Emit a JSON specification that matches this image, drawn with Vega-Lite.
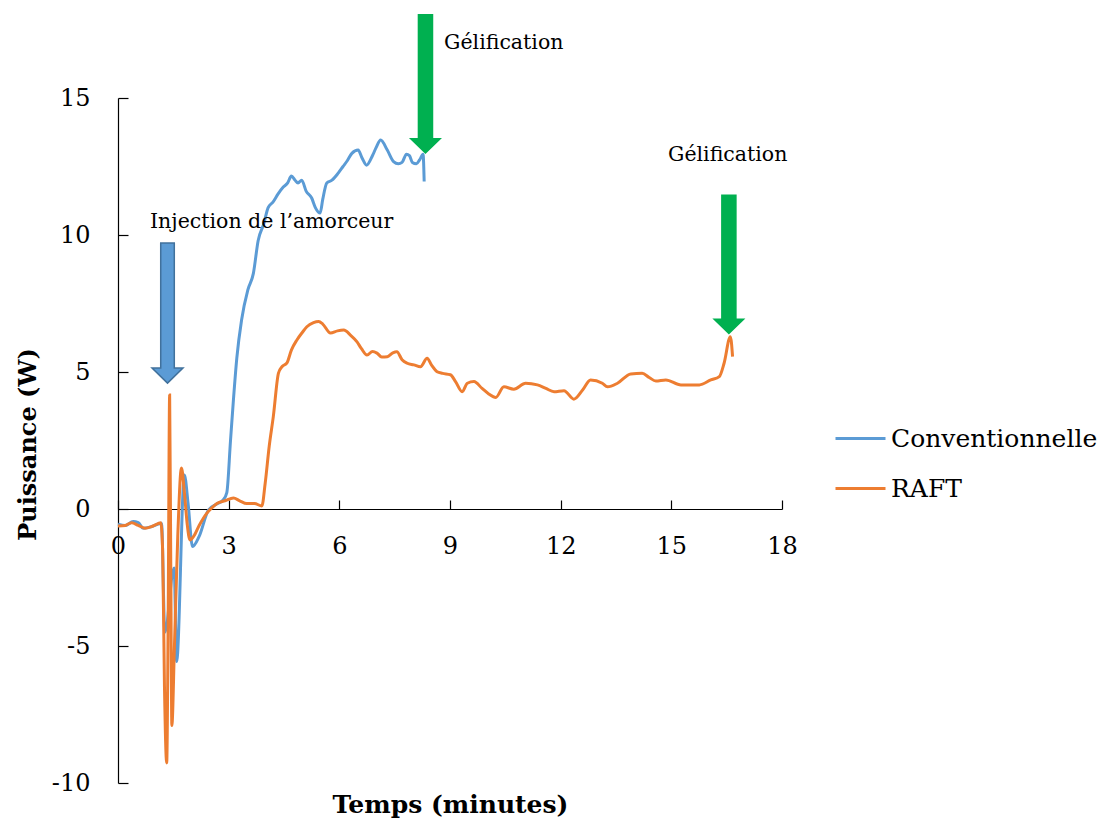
{
  "$schema": "https://vega.github.io/schema/vega-lite/v6.json",
  "width": 664,
  "height": 685,
  "autosize": {"type": "none"},
  "padding": {"left": 118, "top": 98, "right": 317, "bottom": 36},
  "background": "white",
  "config": {
    "view": {"stroke": null},
    "font": "DejaVu Serif",
    "axis": {"grid": false, "domainColor": "#000000", "tickColor": "#000000", "labelColor": "#000000", "titleColor": "#000000", "labelFont": "DejaVu Serif", "titleFont": "DejaVu Serif", "domainWidth": 1.2, "tickWidth": 1.2, "labelFlush": false, "labelOverlap": false}
  },
  "datasets": {
    "lines": [
      {"serie": "Conventionnelle", "t": 0.0, "v": -0.55},
      {"serie": "Conventionnelle", "t": 0.2, "v": -0.6},
      {"serie": "Conventionnelle", "t": 0.41, "v": -0.46},
      {"serie": "Conventionnelle", "t": 0.55, "v": -0.5},
      {"serie": "Conventionnelle", "t": 0.68, "v": -0.7},
      {"serie": "Conventionnelle", "t": 0.9, "v": -0.65},
      {"serie": "Conventionnelle", "t": 1.18, "v": -0.52},
      {"serie": "Conventionnelle", "t": 1.27, "v": -4.5},
      {"serie": "Conventionnelle", "t": 1.52, "v": -2.15},
      {"serie": "Conventionnelle", "t": 1.59, "v": -5.57},
      {"serie": "Conventionnelle", "t": 1.8, "v": 1.24},
      {"serie": "Conventionnelle", "t": 1.9, "v": 0.2},
      {"serie": "Conventionnelle", "t": 2.02, "v": -1.37},
      {"serie": "Conventionnelle", "t": 2.2, "v": -1.0},
      {"serie": "Conventionnelle", "t": 2.45, "v": -0.04},
      {"serie": "Conventionnelle", "t": 2.7, "v": 0.2},
      {"serie": "Conventionnelle", "t": 2.85, "v": 0.33},
      {"serie": "Conventionnelle", "t": 2.95, "v": 0.6},
      {"serie": "Conventionnelle", "t": 3.05, "v": 2.5},
      {"serie": "Conventionnelle", "t": 3.13, "v": 4.0},
      {"serie": "Conventionnelle", "t": 3.22, "v": 5.5},
      {"serie": "Conventionnelle", "t": 3.35, "v": 6.9},
      {"serie": "Conventionnelle", "t": 3.52, "v": 8.0},
      {"serie": "Conventionnelle", "t": 3.67, "v": 8.6},
      {"serie": "Conventionnelle", "t": 3.8, "v": 9.8},
      {"serie": "Conventionnelle", "t": 3.95, "v": 10.4},
      {"serie": "Conventionnelle", "t": 4.07, "v": 11.0},
      {"serie": "Conventionnelle", "t": 4.2, "v": 11.2},
      {"serie": "Conventionnelle", "t": 4.34, "v": 11.5},
      {"serie": "Conventionnelle", "t": 4.48, "v": 11.75},
      {"serie": "Conventionnelle", "t": 4.6, "v": 11.9},
      {"serie": "Conventionnelle", "t": 4.7, "v": 12.15},
      {"serie": "Conventionnelle", "t": 4.8, "v": 12.0},
      {"serie": "Conventionnelle", "t": 4.88, "v": 11.9},
      {"serie": "Conventionnelle", "t": 4.98, "v": 12.0},
      {"serie": "Conventionnelle", "t": 5.1, "v": 11.6},
      {"serie": "Conventionnelle", "t": 5.25, "v": 11.35},
      {"serie": "Conventionnelle", "t": 5.35, "v": 11.0},
      {"serie": "Conventionnelle", "t": 5.48, "v": 10.8},
      {"serie": "Conventionnelle", "t": 5.55, "v": 11.3},
      {"serie": "Conventionnelle", "t": 5.66, "v": 11.9},
      {"serie": "Conventionnelle", "t": 5.8, "v": 12.0},
      {"serie": "Conventionnelle", "t": 5.97, "v": 12.26},
      {"serie": "Conventionnelle", "t": 6.1, "v": 12.5},
      {"serie": "Conventionnelle", "t": 6.21, "v": 12.7},
      {"serie": "Conventionnelle", "t": 6.34, "v": 12.98},
      {"serie": "Conventionnelle", "t": 6.51, "v": 13.1},
      {"serie": "Conventionnelle", "t": 6.62, "v": 12.8},
      {"serie": "Conventionnelle", "t": 6.74, "v": 12.55},
      {"serie": "Conventionnelle", "t": 6.9, "v": 12.9},
      {"serie": "Conventionnelle", "t": 7.0, "v": 13.2},
      {"serie": "Conventionnelle", "t": 7.12, "v": 13.47},
      {"serie": "Conventionnelle", "t": 7.3, "v": 13.1},
      {"serie": "Conventionnelle", "t": 7.47, "v": 12.68},
      {"serie": "Conventionnelle", "t": 7.6, "v": 12.6},
      {"serie": "Conventionnelle", "t": 7.7, "v": 12.65},
      {"serie": "Conventionnelle", "t": 7.82, "v": 12.95},
      {"serie": "Conventionnelle", "t": 7.9, "v": 12.9},
      {"serie": "Conventionnelle", "t": 7.98, "v": 12.65},
      {"serie": "Conventionnelle", "t": 8.09, "v": 12.6},
      {"serie": "Conventionnelle", "t": 8.18, "v": 12.75},
      {"serie": "Conventionnelle", "t": 8.27, "v": 12.95},
      {"serie": "Conventionnelle", "t": 8.3, "v": 11.95},
      {"serie": "RAFT", "t": 0.0, "v": -0.62},
      {"serie": "RAFT", "t": 0.2, "v": -0.6},
      {"serie": "RAFT", "t": 0.37, "v": -0.5},
      {"serie": "RAFT", "t": 0.55, "v": -0.6},
      {"serie": "RAFT", "t": 0.73, "v": -0.7},
      {"serie": "RAFT", "t": 0.95, "v": -0.62},
      {"serie": "RAFT", "t": 1.16, "v": -0.5},
      {"serie": "RAFT", "t": 1.21, "v": -1.5},
      {"serie": "RAFT", "t": 1.26, "v": -6.5},
      {"serie": "RAFT", "t": 1.32, "v": -9.27},
      {"serie": "RAFT", "t": 1.36, "v": -4.0},
      {"serie": "RAFT", "t": 1.4, "v": 4.16},
      {"serie": "RAFT", "t": 1.43, "v": -2.0},
      {"serie": "RAFT", "t": 1.46, "v": -7.9},
      {"serie": "RAFT", "t": 1.53, "v": -5.0},
      {"serie": "RAFT", "t": 1.62, "v": -1.0},
      {"serie": "RAFT", "t": 1.72, "v": 1.5},
      {"serie": "RAFT", "t": 1.8, "v": 0.6},
      {"serie": "RAFT", "t": 1.88, "v": -0.6},
      {"serie": "RAFT", "t": 1.95, "v": -1.13},
      {"serie": "RAFT", "t": 2.05, "v": -1.0},
      {"serie": "RAFT", "t": 2.2, "v": -0.6},
      {"serie": "RAFT", "t": 2.41, "v": -0.15},
      {"serie": "RAFT", "t": 2.55, "v": 0.05},
      {"serie": "RAFT", "t": 2.68, "v": 0.2},
      {"serie": "RAFT", "t": 2.9, "v": 0.3},
      {"serie": "RAFT", "t": 3.13, "v": 0.4},
      {"serie": "RAFT", "t": 3.3, "v": 0.3},
      {"serie": "RAFT", "t": 3.49, "v": 0.2},
      {"serie": "RAFT", "t": 3.7, "v": 0.2},
      {"serie": "RAFT", "t": 3.9, "v": 0.11},
      {"serie": "RAFT", "t": 3.99, "v": 0.94},
      {"serie": "RAFT", "t": 4.1, "v": 2.3},
      {"serie": "RAFT", "t": 4.21, "v": 3.37},
      {"serie": "RAFT", "t": 4.35, "v": 4.96},
      {"serie": "RAFT", "t": 4.45, "v": 5.2},
      {"serie": "RAFT", "t": 4.58, "v": 5.33},
      {"serie": "RAFT", "t": 4.7, "v": 5.8},
      {"serie": "RAFT", "t": 4.85, "v": 6.17},
      {"serie": "RAFT", "t": 5.0, "v": 6.45},
      {"serie": "RAFT", "t": 5.12, "v": 6.65},
      {"serie": "RAFT", "t": 5.3, "v": 6.8},
      {"serie": "RAFT", "t": 5.44, "v": 6.84},
      {"serie": "RAFT", "t": 5.55, "v": 6.75},
      {"serie": "RAFT", "t": 5.76, "v": 6.42},
      {"serie": "RAFT", "t": 5.95, "v": 6.5},
      {"serie": "RAFT", "t": 6.12, "v": 6.53},
      {"serie": "RAFT", "t": 6.3, "v": 6.35},
      {"serie": "RAFT", "t": 6.48, "v": 6.1},
      {"serie": "RAFT", "t": 6.6, "v": 5.85},
      {"serie": "RAFT", "t": 6.75, "v": 5.62},
      {"serie": "RAFT", "t": 6.9, "v": 5.75},
      {"serie": "RAFT", "t": 7.02, "v": 5.69},
      {"serie": "RAFT", "t": 7.15, "v": 5.55},
      {"serie": "RAFT", "t": 7.3, "v": 5.56},
      {"serie": "RAFT", "t": 7.45, "v": 5.7},
      {"serie": "RAFT", "t": 7.56, "v": 5.74},
      {"serie": "RAFT", "t": 7.7, "v": 5.45},
      {"serie": "RAFT", "t": 7.84, "v": 5.32},
      {"serie": "RAFT", "t": 8.02, "v": 5.26},
      {"serie": "RAFT", "t": 8.2, "v": 5.19},
      {"serie": "RAFT", "t": 8.38, "v": 5.5},
      {"serie": "RAFT", "t": 8.5, "v": 5.25},
      {"serie": "RAFT", "t": 8.65, "v": 5.01},
      {"serie": "RAFT", "t": 8.8, "v": 4.95},
      {"serie": "RAFT", "t": 9.01, "v": 4.9},
      {"serie": "RAFT", "t": 9.15, "v": 4.65},
      {"serie": "RAFT", "t": 9.33, "v": 4.28},
      {"serie": "RAFT", "t": 9.47, "v": 4.59},
      {"serie": "RAFT", "t": 9.65, "v": 4.65},
      {"serie": "RAFT", "t": 9.87, "v": 4.4},
      {"serie": "RAFT", "t": 10.05, "v": 4.2},
      {"serie": "RAFT", "t": 10.24, "v": 4.07},
      {"serie": "RAFT", "t": 10.46, "v": 4.46},
      {"serie": "RAFT", "t": 10.73, "v": 4.37},
      {"serie": "RAFT", "t": 11.05, "v": 4.59},
      {"serie": "RAFT", "t": 11.37, "v": 4.53},
      {"serie": "RAFT", "t": 11.6, "v": 4.4},
      {"serie": "RAFT", "t": 11.82, "v": 4.28},
      {"serie": "RAFT", "t": 12.09, "v": 4.32},
      {"serie": "RAFT", "t": 12.36, "v": 4.01},
      {"serie": "RAFT", "t": 12.6, "v": 4.35},
      {"serie": "RAFT", "t": 12.81, "v": 4.71},
      {"serie": "RAFT", "t": 13.13, "v": 4.59},
      {"serie": "RAFT", "t": 13.27, "v": 4.46},
      {"serie": "RAFT", "t": 13.54, "v": 4.59},
      {"serie": "RAFT", "t": 13.9, "v": 4.93},
      {"serie": "RAFT", "t": 14.21, "v": 4.95},
      {"serie": "RAFT", "t": 14.4, "v": 4.8},
      {"serie": "RAFT", "t": 14.58, "v": 4.67},
      {"serie": "RAFT", "t": 14.85, "v": 4.71},
      {"serie": "RAFT", "t": 15.26, "v": 4.53},
      {"serie": "RAFT", "t": 15.76, "v": 4.53},
      {"serie": "RAFT", "t": 16.07, "v": 4.71},
      {"serie": "RAFT", "t": 16.3, "v": 4.83},
      {"serie": "RAFT", "t": 16.43, "v": 5.32},
      {"serie": "RAFT", "t": 16.6, "v": 6.29},
      {"serie": "RAFT", "t": 16.66, "v": 5.56}
    ],
    "arrows": [
      {"kind": "injection", "t": 1.342, "v": 7.15},
      {"kind": "gel", "t": 8.335, "v": 15.51},
      {"kind": "gel", "t": 16.56, "v": 8.92}
    ],
    "labels": [
      {"label": "Gélification", "t": 8.84, "v": 17.0},
      {"label": "Gélification", "t": 14.91, "v": 12.92},
      {"label": "Injection de l’amorceur", "t": 0.867, "v": 10.47}
    ]
  },
  "encoding": {
    "x": {
      "field": "t", "type": "quantitative",
      "scale": {"domain": [0, 18], "nice": false, "zero": false},
      "axis": {
        "values": [0, 3, 6, 9, 12, 15, 18],
        "offset": -274,
        "tickSize": -9,
        "labelPadding": 34,
        "labelFontSize": 24,
        "labelBaseline": "top",
        "labelFlush": false,
        "title": "Temps (minutes)",
        "titleFontSize": 25,
        "titleFontWeight": "bold",
        "titleX": 332,
        "titleY": 303,
        "titleBaseline": "alphabetic"
      }
    },
    "y": {
      "field": "v", "type": "quantitative",
      "scale": {"domain": [-10, 15], "nice": false, "zero": false},
      "axis": {
        "values": [-10, -5, 0, 5, 10, 15],
        "tickSize": -10,
        "labelPadding": 38,
        "labelFontSize": 24,
        "labelFlush": false,
        "labelExpr": "datum.value + ''",
        "title": "Puissance (W)",
        "titleFontSize": 24,
        "titleFontWeight": "bold",
        "titleAngle": -90,
        "titleX": -83,
        "titleY": 346,
        "titleBaseline": "alphabetic",
        "titleAlign": "center"
      }
    }
  },
  "layer": [
    {
      "data": {"name": "lines"},
      "mark": {"type": "line", "strokeWidth": 3, "interpolate": "monotone"},
      "encoding": {
        "color": {
          "field": "serie", "type": "nominal",
          "scale": {"domain": ["Conventionnelle", "RAFT"], "range": ["#5B9BD5", "#ED7D31"]},
          "legend": {
            "orient": "none",
            "legendX": 716,
            "legendY": 314,
            "title": null,
            "symbolType": "stroke",
            "symbolSize": 2500,
            "symbolStrokeWidth": 3,
            "labelFont": "DejaVu Serif",
            "labelFontSize": 25,
            "labelColor": "#000000",
            "labelOffset": 4,
            "labelLimit": 0,
            "rowPadding": 10,
            "padding": 0
          }
        }
      }
    },
    {
      "data": {"name": "arrows"},
      "transform": [{"filter": "datum.kind === 'injection'"}],
      "mark": {
        "type": "point",
        "filled": true,
        "opacity": 1,
        "size": 19600,
        "shape": "M -0.097 -1 L 0.097 -1 L 0.097 0.786 L 0.221 0.786 L 0 1 L -0.221 0.786 L -0.097 0.786 Z",
        "fill": "#5B9BD5",
        "stroke": "#41719C",
        "strokeWidth": 1.5
      }
    },
    {
      "data": {"name": "arrows"},
      "transform": [{"filter": "datum.kind === 'gel'"}],
      "mark": {
        "type": "point",
        "filled": true,
        "opacity": 1,
        "size": 19600,
        "shape": "M -0.111 -1 L 0.111 -1 L 0.111 0.771 L 0.236 0.771 L 0 1 L -0.236 0.771 L -0.111 0.771 Z",
        "fill": "#00B050",
        "strokeWidth": 0
      }
    },
    {
      "data": {"name": "labels"},
      "mark": {"type": "text", "align": "left", "baseline": "middle", "font": "DejaVu Serif", "fontSize": 20.5, "color": "#000000"},
      "encoding": {"text": {"field": "label", "type": "nominal"}}
    }
  ]
}
